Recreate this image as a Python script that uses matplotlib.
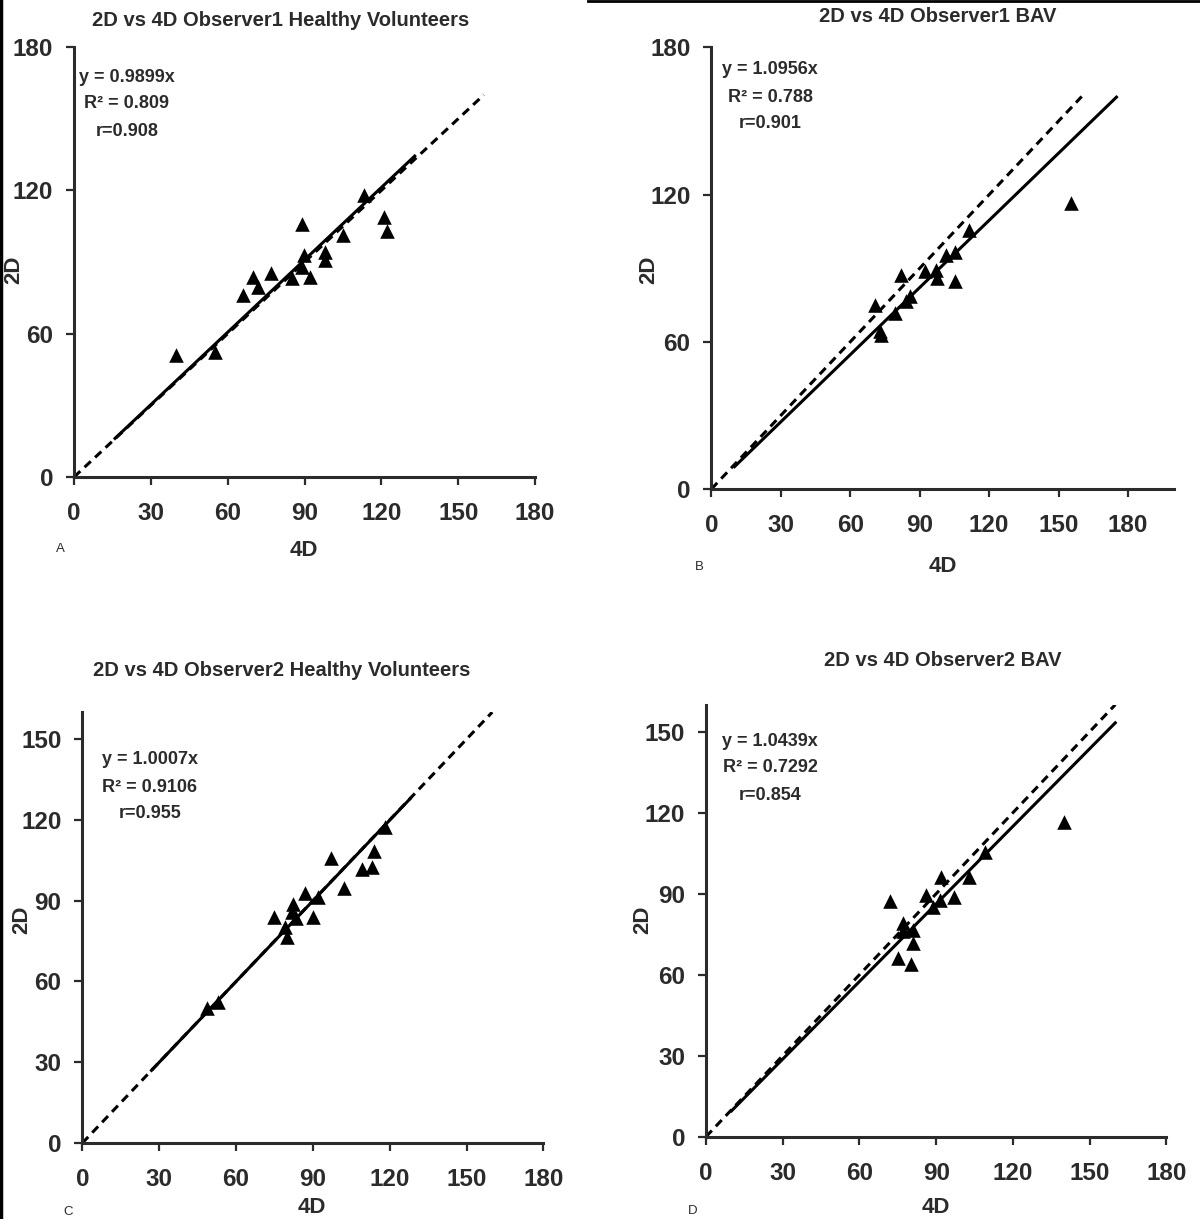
import numpy as np
import matplotlib.pyplot as plt
from matplotlib.lines import Line2D

plt.rcParams['font.family'] = ['Liberation Sans', 'DejaVu Sans']
plt.rcParams['font.weight'] = 'bold'

INK = '#2b2b2b'
W, H = 1200, 1219

# A: observer 1, healthy volunteers
obs1_hv_4d = [39.9, 55.1, 65.9, 69.8, 72.0, 76.9, 85.1, 89.1, 89.9, 89.0, 92.2, 98.1, 98.1, 105.0, 113.1, 120.9, 122.2]
obs1_hv_2d = [50.9, 52.3, 76.4, 83.7, 79.5, 85.5, 83.4, 106.0, 92.8, 88.1, 83.7, 94.1, 91.0, 101.4, 117.9, 108.8, 102.8]

# B: observer 1, BAV
obs1_bav_4d = [70.9, 72.8, 73.1, 79.2, 84.3, 85.8, 82.0, 92.3, 97.2, 97.3, 101.4, 105.2, 105.2, 111.3, 155.3]
obs1_bav_2d = [75.2, 64.6, 62.9, 71.8, 76.5, 78.5, 87.4, 88.8, 89.4, 85.9, 95.5, 96.6, 84.6, 105.4, 116.5]

# C: observer 2, healthy volunteers
obs2_hv_4d = [48.7, 53.0, 74.9, 79.1, 80.0, 81.7, 82.1, 83.3, 86.9, 89.9, 92.1, 97.0, 102.1, 109.2, 113.2, 114.0, 118.2]
obs2_hv_2d = [50.3, 52.4, 83.8, 80.1, 76.6, 85.9, 88.7, 83.4, 92.7, 83.8, 91.5, 105.7, 94.6, 101.6, 102.6, 108.4, 117.5]

# D: observer 2, BAV
obs2_bav_4d = [71.9, 74.9, 80.0, 76.9, 76.9, 81.0, 81.0, 86.0, 88.6, 91.5, 91.9, 97.1, 102.9, 109.1, 140.1]
obs2_bav_2d = [87.4, 66.1, 64.0, 79.0, 76.3, 76.5, 71.6, 89.5, 85.2, 87.7, 96.3, 88.7, 96.3, 105.6, 116.7]

titles = ['2D vs 4D Observer1 Healthy Volunteers', '2D vs 4D Observer1 BAV',
          '2D vs 4D Observer2 Healthy Volunteers', '2D vs 4D Observer2 BAV']
slopes = [0.9899, 1.0956, 1.0007, 1.0439]
r2 = ['0.809', '0.788', '0.9106', '0.7292']
r = ['0.908', '0.901', '0.955', '0.854']
letters = ['A', 'B', 'C', 'D']
fit_ranges = [(16, 133), (10, 175), (27, 128), (10, 160)]

# layout in pixels of the original figure
panels = [
    dict(x=obs1_hv_4d, y=obs1_hv_2d, rect=[0.0617, 0.6087, 0.3842, 0.3527], xmax=180, ymax=180,
         yticks=[0, 60, 120, 180], title=(281, 20), txt=(127, 77), let=(60, 549),
         xlab=(304, 551), ylab=(14, 270)),
    dict(x=obs1_bav_4d, y=obs1_bav_2d, rect=[0.5928, 0.5988, 0.3858, 0.3623], xmax=200, ymax=180,
         yticks=[0, 60, 120, 180], title=(938, 17), txt=(770, 70), let=(699, 567),
         xlab=(943, 566), ylab=(649, 270)),
    dict(x=obs2_hv_4d, y=obs2_hv_2d, rect=[0.0686, 0.0623, 0.3843, 0.3535], xmax=180, ymax=160,
         yticks=[0, 30, 60, 90, 120, 150], title=(282, 671), txt=(150, 760), let=(68, 1212),
         xlab=(312, 1218), ylab=(22, 920)),
    dict(x=obs2_bav_4d, y=obs2_bav_2d, rect=[0.5883, 0.0675, 0.3837, 0.3544], xmax=180, ymax=160,
         yticks=[0, 30, 60, 90, 120, 150], title=(943, 660), txt=(770, 741), let=(693, 1211),
         xlab=(936, 1218), ylab=(643, 920)),
]


def fpos(px, py):
    return px / W, 1 - py / H


fig = plt.figure(figsize=(12, 12.19), dpi=100)

for i, p in enumerate(panels):
    ax = fig.add_axes(p['rect'])
    ax.set_xlim(0, p['xmax'])
    ax.set_ylim(0, p['ymax'])

    # line of identity (dashed) and regression line (solid)
    ident = np.array([0, 160])
    ax.plot(ident, ident, color='black', lw=2.2, ls=(0, (2.8, 1.9)), zorder=2)
    fx = np.array(fit_ranges[i])
    ax.plot(fx, fx / slopes[i], color='black', lw=2.2, zorder=3)

    ax.scatter(p['x'], p['y'], marker='^', s=110, color='black', zorder=4, linewidths=0)

    for s in ['top', 'right']:
        ax.spines[s].set_visible(False)
    for s in ['left', 'bottom']:
        ax.spines[s].set_linewidth(2.2)
        ax.spines[s].set_color(INK)
    ax.set_xticks([0, 30, 60, 90, 120, 150, 180])
    ax.set_yticks(p['yticks'])
    ax.tick_params(direction='out', length=6, width=1.6, color=INK, labelcolor=INK, labelsize=17.5)
    ax.tick_params(axis='x', pad=12)
    ax.tick_params(axis='y', pad=9)
    ax.patch.set_alpha(0)

    xl_va = 'bottom' if p['xlab'][1] > 1200 else 'center'
    fig.text(*fpos(*p['xlab']), '4D', ha='center', va=xl_va, fontsize=16, color=INK)
    fig.text(*fpos(*p['ylab']), '2D', ha='center', va='center', fontsize=16, color=INK,
             rotation=90)

    lines = ['y = %.4fx' % slopes[i], 'R² = %s' % r2[i], 'r=%s' % r[i]]
    for k, line in enumerate(lines):
        fig.text(*fpos(p['txt'][0], p['txt'][1] + 27 * k), line,
                 ha='center', va='center', fontsize=13, color=INK)

    fig.text(*fpos(*p['title']), titles[i], ha='center', va='center', fontsize=14.5, color=INK)
    fig.text(*fpos(*p['let']), letters[i], ha='center', va='center', fontsize=9.5,
             fontweight='normal', color=INK)

# border lines of the original figure
fig.add_artist(Line2D([0.001, 0.001], [0, 1], transform=fig.transFigure, color='black', lw=2.5))
fig.add_artist(Line2D([0.49, 1], [0.999, 0.999], transform=fig.transFigure, color='black', lw=2))

fig.savefig('out.png', dpi=100)
